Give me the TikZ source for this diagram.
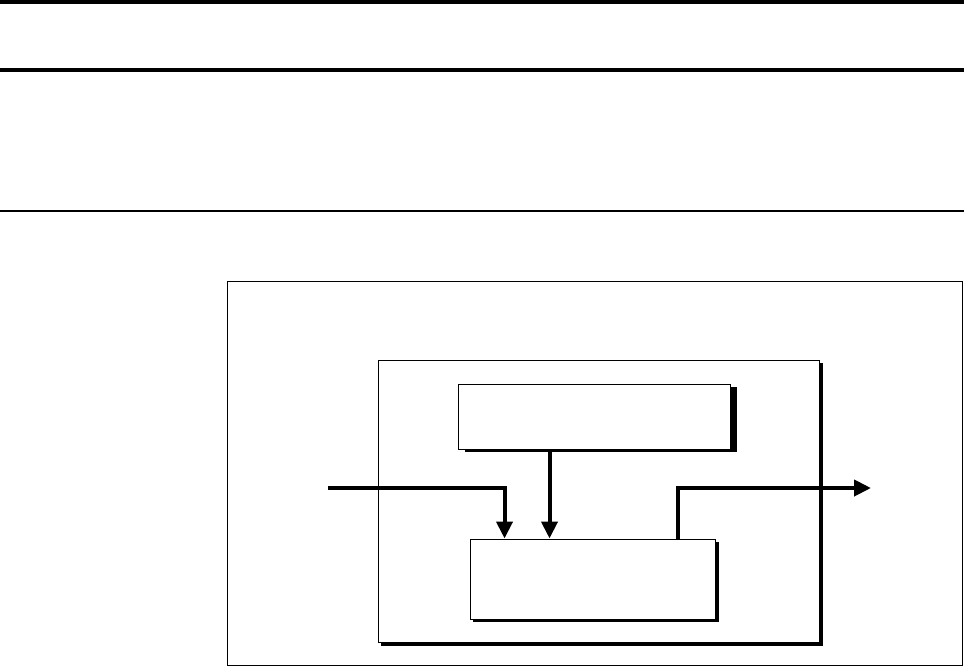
\documentclass[tikz,border=0pt]{standalone}
\usetikzlibrary{positioning, shapes, shadows, calc, arrows.meta}
\tikzset{
  blockbox/.style={draw, fill=white, line width=0.02cm, inner sep=0pt},
  flow/.style={line width=0.08cm, -{Triangle[length=0.34cm,width=0.32cm]}}
}

\begin{document}
\begin{tikzpicture}[x=0.02cm,y=-0.02cm]
\useasboundingbox (0,0) rectangle (964,667);
\draw[line width=0.08cm] (0,2) -- (964,2);
\draw[line width=0.08cm] (0,70) -- (964,70);
\draw[line width=0.025cm] (0,211) -- (964,211);

\node[blockbox, minimum width=14.72cm, minimum height=7.7cm] (frame) at (595,473.5) {};
\node[blockbox, minimum width=8.84cm, minimum height=5.66cm,
  drop shadow={shadow xshift=0.06cm, shadow yshift=-0.065cm, fill=black, opacity=1}] (unit) at (599,501.5) {};
\node[blockbox, minimum width=5.46cm, minimum height=1.3cm,
  drop shadow={shadow xshift=0.13cm, shadow yshift=-0.06cm, fill=black, opacity=1}] (ctrl) at (594.5,416.5) {};
\node[blockbox, minimum width=4.92cm, minimum height=1.6cm,
  drop shadow={shadow xshift=0.06cm, shadow yshift=-0.065cm, fill=black, opacity=1}] (proc) at (593,579) {};

\coordinate (in) at (328,488);
\coordinate (out) at (871,488);
\draw[flow] (in) -| ([xshift=0.7cm]proc.north west);
\draw[flow] ([xshift=-0.9cm]ctrl.south) -- ([xshift=-0.9cm]ctrl.south |- proc.north);
\draw[flow] ([xshift=4.18cm]proc.north west) |- (out);
\end{tikzpicture}
\end{document}
